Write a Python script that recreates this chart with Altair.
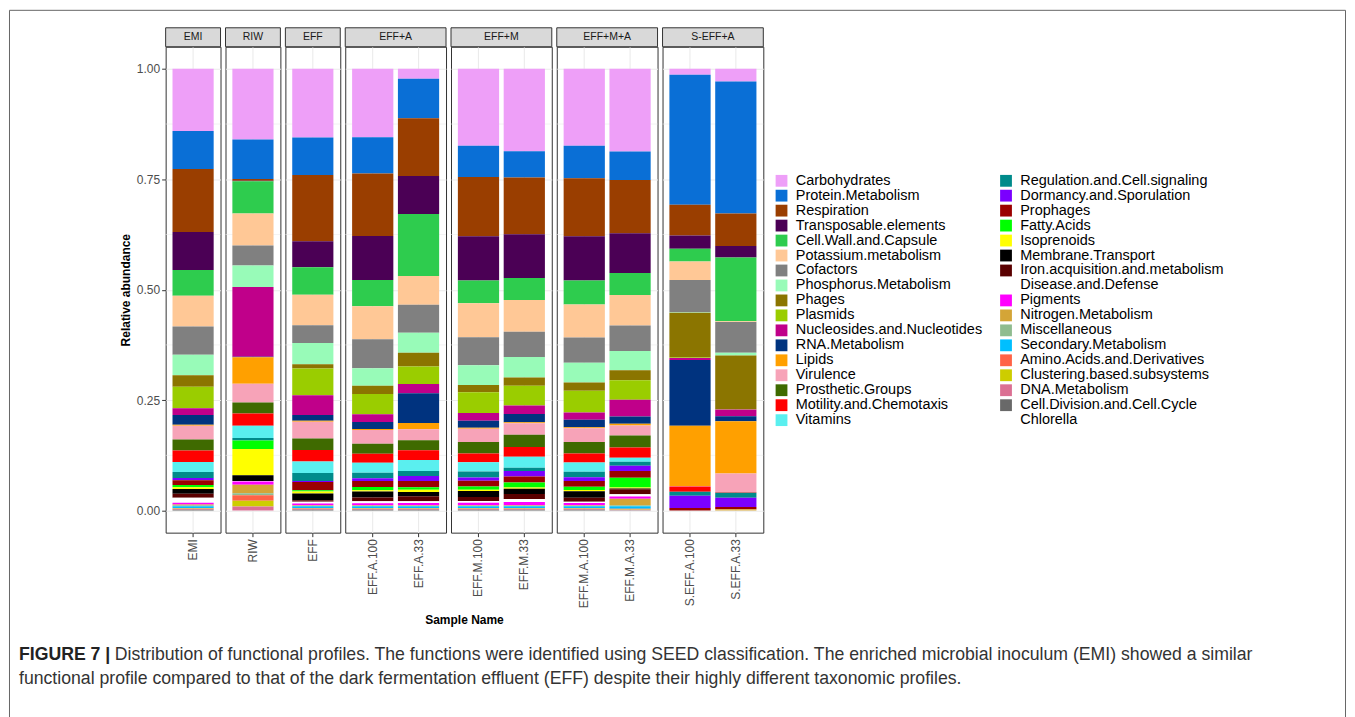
import altair as alt
import pandas as pd

FONT = "Liberation Sans"

categories = [
    "Carbohydrates", "Protein.Metabolism", "Respiration", "Transposable.elements",
    "Cell.Wall.and.Capsule", "Potassium.metabolism", "Cofactors", "Phosphorus.Metabolism",
    "Phages", "Plasmids", "Nucleosides.and.Nucleotides", "RNA.Metabolism", "Lipids",
    "Virulence", "Prosthetic.Groups", "Motility.and.Chemotaxis", "Vitamins",
    "Regulation.and.Cell.signaling", "Dormancy.and.Sporulation", "Prophages", "Fatty.Acids",
    "Isoprenoids", "Membrane.Transport", "Iron.acquisition.and.metabolism",
    "Disease.and.Defense", "Pigments", "Nitrogen.Metabolism", "Miscellaneous",
    "Secondary.Metabolism", "Amino.Acids.and.Derivatives", "Clustering.based.subsystems",
    "DNA.Metabolism", "Cell.Division.and.Cell.Cycle", "Chlorella",
]
colors = [
    "#EE9FF8", "#0A6FD6", "#9A3E00", "#4B0055", "#2ECC4E", "#FFC896", "#808080", "#98FBB8",
    "#8B7500", "#9ACD00", "#C0008A", "#00337F", "#FFA000", "#F7A3B8", "#3F6A00", "#FF0000",
    "#5AEFEF", "#008B8B", "#7B00FF", "#9B0000", "#00FF00", "#FFFF00", "#000000", "#5A0000",
    "#FFFFFF", "#FF00FF", "#D4A537", "#8FBC8F", "#00BFFF", "#FF6347", "#CDCD00", "#DB7093",
    "#696969", "#FFFFFF",
]

samples = ["EMI", "RIW", "EFF", "EFF.A.100", "EFF.A.33", "EFF.M.100", "EFF.M.33",
           "EFF.M.A.100", "EFF.M.A.33", "S.EFF.A.100", "S.EFF.A.33"]
sample_group = ["EMI", "RIW", "EFF", "EFF+A", "EFF+A", "EFF+M", "EFF+M",
                "EFF+M+A", "EFF+M+A", "S-EFF+A", "S-EFF+A"]
groups = ["EMI", "RIW", "EFF", "EFF+A", "EFF+M", "EFF+M+A", "S-EFF+A"]

EMI = [0.141, 0.0865, 0.1426, 0.0863, 0.0586, 0.0698, 0.0638, 0.0466, 0.0263, 0.0488,
       0.015, 0.0225, 0.002, 0.0315, 0.0248, 0.0263, 0.0225, 0.0135, 0.005, 0.011, 0.005,
       0.004, 0.011, 0.009, 0.011, 0.004, 0.002, 0.002, 0.004, 0.001, 0.001, 0.002, 0.002, 0.0]
RIW = [0.16, 0.09, 0.004, 0.001, 0.073, 0.0728, 0.045, 0.049, 0.0, 0.0,
       0.158, 0.001, 0.06, 0.0428, 0.0248, 0.0278, 0.0278, 0.006, 0.0, 0.0, 0.0188,
       0.06, 0.0128, 0.0, 0.001, 0.0075, 0.0195, 0.0045, 0.0, 0.012, 0.0135, 0.009, 0.0, 0.0]
EFF = [0.1577, 0.0863, 0.1525, 0.06, 0.063, 0.07, 0.0413, 0.0488, 0.0098, 0.0615,
       0.045, 0.0135, 0.002, 0.039, 0.0263, 0.0263, 0.0263, 0.0188, 0.002, 0.0188, 0.003,
       0.005, 0.015, 0.004, 0.004, 0.004, 0.001, 0.001, 0.004, 0.001, 0.001, 0.002, 0.002, 0.0]
EFF_A_100 = [0.156, 0.0826, 0.1426, 0.1006, 0.06, 0.075, 0.066, 0.04, 0.0188, 0.0465,
             0.0173, 0.0165, 0.002, 0.0315, 0.0225, 0.021, 0.0225, 0.0128, 0.006, 0.0135, 0.0075,
             0.003, 0.0135, 0.009, 0.0045, 0.0045, 0.001, 0.001, 0.004, 0.001, 0.001, 0.002, 0.002, 0.0]
EFF_A_33 = [0.0225, 0.09, 0.131, 0.0863, 0.141, 0.0653, 0.0638, 0.045, 0.0315, 0.0398,
            0.021, 0.0676, 0.0143, 0.0248, 0.0225, 0.0225, 0.0248, 0.0113, 0.0113, 0.0143, 0.006,
            0.005, 0.0098, 0.0113, 0.004, 0.005, 0.001, 0.001, 0.004, 0.001, 0.001, 0.002, 0.002, 0.0]
EFF_M_100 = [0.175, 0.0713, 0.135, 0.101, 0.0518, 0.0773, 0.064, 0.045, 0.0165, 0.0473,
             0.0173, 0.0165, 0.002, 0.03, 0.0263, 0.0203, 0.021, 0.0135, 0.0075, 0.0128, 0.0075,
             0.003, 0.0135, 0.009, 0.004, 0.006, 0.001, 0.001, 0.004, 0.001, 0.001, 0.002, 0.002, 0.0]
EFF_M_33 = [0.1877, 0.06, 0.129, 0.0998, 0.0504, 0.072, 0.0578, 0.0466, 0.0188, 0.045,
            0.0195, 0.0188, 0.002, 0.0263, 0.0278, 0.0225, 0.0248, 0.0075, 0.0128, 0.0135, 0.0113,
            0.003, 0.012, 0.0113, 0.0068, 0.0075, 0.001, 0.001, 0.004, 0.001, 0.001, 0.002, 0.002, 0.0]
EFF_M_A_100 = [0.175, 0.0743, 0.132, 0.1006, 0.0548, 0.075, 0.0578, 0.045, 0.0188, 0.0495,
               0.0165, 0.0173, 0.002, 0.0315, 0.0263, 0.0203, 0.021, 0.0128, 0.0083, 0.0128, 0.0075,
               0.003, 0.015, 0.009, 0.003, 0.005, 0.001, 0.001, 0.004, 0.001, 0.001, 0.002, 0.002, 0.0]
EFF_M_A_33 = [0.1877, 0.0653, 0.121, 0.09, 0.0503, 0.069, 0.0585, 0.0435, 0.0225, 0.0443,
              0.0383, 0.0165, 0.004, 0.0225, 0.0278, 0.0233, 0.009, 0.009, 0.012, 0.015, 0.0225,
              0.002, 0.002, 0.0113, 0.005, 0.005, 0.015, 0.002, 0.006, 0.001, 0.001, 0.001, 0.001, 0.0]
S_EFF_A_100 = [0.0135, 0.2943, 0.0698, 0.03, 0.0293, 0.042, 0.073, 0.001, 0.1013, 0.001,
               0.005, 0.1486, 0.1366, 0.001, 0.0, 0.012, 0.0, 0.009, 0.0278, 0.006, 0.0,
               0.0, 0.0, 0.0, 0.0, 0.0, 0.0, 0.0, 0.0, 0.0, 0.0, 0.0, 0.0, 0.0]
S_EFF_A_33 = [0.0285, 0.2995, 0.0736, 0.0263, 0.1441, 0.002, 0.0698, 0.006, 0.1216, 0.001,
              0.015, 0.0113, 0.1186, 0.0428, 0.0, 0.001, 0.0, 0.0113, 0.021, 0.005, 0.0,
              0.0, 0.0, 0.0, 0.0, 0.0, 0.003, 0.0, 0.0, 0.0, 0.0, 0.0, 0.0, 0.0]

y_ticks = [0.0, 0.25, 0.5, 0.75, 1.0]
y_minor = [0.125, 0.375, 0.625, 0.875]

x_title = "Sample Name"
y_title = "Relative abundance"
caption_bold = "FIGURE 7 |"
caption_line1 = ("Distribution of functional profiles. The functions were identified using SEED "
                 "classification. The enriched microbial inoculum (EMI) showed a similar")
caption_line2 = ("functional profile compared to that of the dark fermentation effluent (EFF) "
                 "despite their highly different taxonomic profiles.")

values_by_sample = {
    "EMI": EMI, "RIW": RIW, "EFF": EFF, "EFF.A.100": EFF_A_100, "EFF.A.33": EFF_A_33,
    "EFF.M.100": EFF_M_100, "EFF.M.33": EFF_M_33, "EFF.M.A.100": EFF_M_A_100,
    "EFF.M.A.33": EFF_M_A_33, "S.EFF.A.100": S_EFF_A_100, "S.EFF.A.33": S_EFF_A_33,
}

rows = []
for s, g in zip(samples, sample_group):
    for i, (c, v) in enumerate(zip(categories, values_by_sample[s])):
        rows.append({"sample": s, "group": g, "category": c, "idx": i, "value": v})
df = pd.DataFrame(rows)

PANEL_W = {1: 55, 2: 101}
SPACING = 5
H = 487
STRIP = 19

n_by_group = {g: sample_group.count(g) for g in groups}
total_w = sum(PANEL_W[n_by_group[g]] for g in groups) + SPACING * (len(groups) - 1)

yscale = alt.Scale(domain=[-0.05, 1.05], nice=False, zero=False)

color_enc = alt.Color(
    "category:N",
    scale=alt.Scale(domain=categories, range=colors),
    legend=alt.Legend(
        title=None, orient="none", legendX=610, legendY=127, columns=2,
        symbolType="square", symbolSize=140, symbolStrokeWidth=0, symbolLimit=40,
        labelFont=FONT, labelFontSize=14.5, labelColor="black", labelOffset=7,
        columnPadding=16, rowPadding=0, labelLimit=400,
    ),
)


def panel(g, first):
    names = [s for s, gg in zip(samples, sample_group) if gg == g]
    w = PANEL_W[len(names)]
    sub = df[df["group"] == g]
    if first:
        yaxis = alt.Axis(title=y_title, values=y_ticks, format=".2f", tickSize=4,
                         labelPadding=2, titlePadding=4, domain=False, grid=True)
    else:
        yaxis = alt.Axis(title=None, values=y_ticks, labels=False, ticks=False,
                         domain=False, grid=True)
    xaxis = alt.Axis(title=None, labelAngle=-90, grid=True, bandPosition=0.5,
                     domain=False, tickSize=4, labelPadding=2)

    minor = alt.Chart(pd.DataFrame({"value": y_minor})).mark_rule(
        color="#EBEBEB", strokeWidth=0.6
    ).encode(y=alt.Y("value:Q", scale=yscale, axis=yaxis))

    bars = alt.Chart(sub).mark_bar().encode(
        x=alt.X("sample:N", sort=names,
                scale=alt.Scale(paddingInner=0.1, paddingOuter=0.15), axis=xaxis),
        y=alt.Y("value:Q", stack="normalize", scale=yscale, axis=yaxis),
        color=color_enc,
        order=alt.Order("idx:Q", sort="descending"),
    )

    strip_df = pd.DataFrame({"group": [g]})
    strip = alt.Chart(strip_df).mark_rect(
        fill="#D9D9D9", stroke="#333333", strokeWidth=1
    ).encode(x=alt.value(0), x2=alt.value(w), y=alt.value(-STRIP), y2=alt.value(0))
    strip_text = alt.Chart(strip_df).mark_text(
        font=FONT, fontSize=10.5, color="#1A1A1A", baseline="middle"
    ).encode(x=alt.value(w / 2), y=alt.value(-STRIP / 2), text="group:N")

    layers = [minor, bars, strip, strip_text]

    if first:
        # thin frame around the whole figure (page-level decoration)
        frame = alt.Chart(pd.DataFrame({"f": [0]})).mark_rect(
            fill="white", fillOpacity=0, stroke="#666666", strokeWidth=1
        ).encode(x=alt.value(-156.5), y=alt.value(-36.5),
                 x2=alt.value(1182.5), y2=alt.value(700))
        layers.insert(0, frame)

        txt = pd.DataFrame({"t": [x_title]})
        layers.append(alt.Chart(txt).mark_text(
            font=FONT, fontSize=12, fontWeight="bold", color="black", baseline="middle"
        ).encode(x=alt.value(total_w / 2), y=alt.value(575), text="t:N"))
        cap_b = pd.DataFrame({"t": [caption_bold]})
        layers.append(alt.Chart(cap_b).mark_text(
            font=FONT, fontSize=17.7, fontWeight="bold", color="#222222",
            align="left", baseline="middle"
        ).encode(x=alt.value(-147), y=alt.value(610), text="t:N"))
        cap1 = pd.DataFrame({"t": [caption_line1]})
        layers.append(alt.Chart(cap1).mark_text(
            font=FONT, fontSize=17.7, color="#333333", align="left", baseline="middle"
        ).encode(x=alt.value(-51), y=alt.value(610), text="t:N"))
        cap2 = pd.DataFrame({"t": [caption_line2]})
        layers.append(alt.Chart(cap2).mark_text(
            font=FONT, fontSize=17.7, color="#333333", align="left", baseline="middle"
        ).encode(x=alt.value(-147), y=alt.value(634), text="t:N"))

    return alt.layer(*layers).properties(width=w, height=H)


chart = alt.hconcat(
    *[panel(g, i == 0) for i, g in enumerate(groups)],
    spacing=SPACING, bounds="flush",
).resolve_scale(
    color="shared", x="independent", y="independent"
).properties(
    padding={"left": 0, "top": 0, "right": 0, "bottom": 0},
    background="white",
).configure_view(
    stroke="#333333", strokeWidth=1
).configure_axis(
    labelFont=FONT, titleFont=FONT, labelColor="#4D4D4D", tickColor="#333333",
    gridColor="#EBEBEB", gridWidth=1.1, labelFontSize=12, titleFontSize=12,
    titleFontWeight="bold", titleColor="black",
)

chart.save("out.html", embed_options={"renderer": "svg", "actions": False})
